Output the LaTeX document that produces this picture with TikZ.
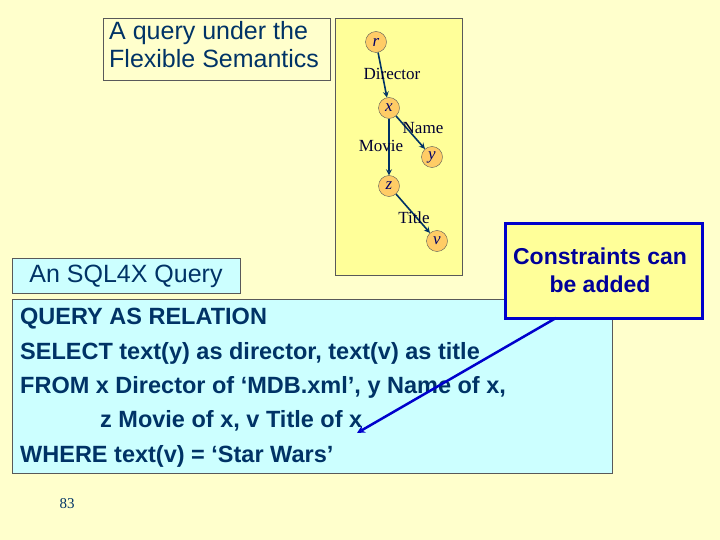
\documentclass[tikz,border=0pt]{standalone}
\usepackage{fontspec}
\setmainfont{Liberation Serif}
\newfontfamily\arial{Liberation Sans}
\begin{document}
\begin{tikzpicture}[x=1pt,y=-1pt,
 vnode/.style={circle,draw=gray!70!black,fill={rgb,255:red,255;green,204;blue,102},minimum size=21pt,inner sep=0pt,font=\itshape\fontsize{17}{17}\selectfont,text={rgb,255:red,0;green,0;blue,102}},
 edge/.style={draw={rgb,255:red,0;green,51;blue,102},line width=1.6pt,-stealth},
 lab/.style={font=\fontsize{17}{17}\selectfont,text={rgb,255:red,0;green,0;blue,51},inner sep=0pt},
 qtext/.style={font=\arial\bfseries\fontsize{23.5}{23.5}\selectfont,text={rgb,255:red,0;green,51;blue,102},anchor=west,inner sep=0pt}]
\definecolor{navy}{RGB}{0,51,102}
\fill[fill={rgb,255:red,255;green,255;blue,204}] (0,0) rectangle (720,540);
\useasboundingbox (0,0) rectangle (720,540);
\node[draw=gray!70!black,fill={rgb,255:red,255;green,255;blue,204},minimum width=227pt,minimum height=62pt,anchor=north west] (title) at (103,18) {};
\node[font=\arial\fontsize{25}{28}\selectfont,text=navy,align=left,anchor=north west,inner sep=0pt] (tt) at (109,21) {A query under the\\Flexible Semantics};
\node[draw=gray!70!black,fill={rgb,255:red,255;green,255;blue,153},minimum width=127pt,minimum height=257pt,anchor=north west] (tree) at (335,18) {};
\node[vnode] (r) at (376,42) {r};
\node[vnode] (x) at (389,108) {x};
\node[vnode] (y) at (432,157) {y};
\node[vnode] (z) at (389,186) {z};
\node[vnode] (v) at (437,241) {v};
\draw[edge] (r) -- (x);
\draw[edge] (x) -- (y);
\draw[edge] (x) -- (z);
\draw[edge] (z) -- (v);
\node[lab] (l1) at (392,74) {Director};
\node[lab] (l2) at (423,128) {Name};
\node[lab] (l3) at (381,146) {Movie};
\node[lab] (l4) at (414,218) {Title};
\node[draw=gray!70!black,fill={rgb,255:red,204;green,255;blue,255},minimum width=228pt,minimum height=35pt,anchor=north west] (sq) at (12,258) {};
\node[font=\arial\fontsize{25}{25}\selectfont,text=navy,inner sep=0pt] (sqt) at (126,276) {An SQL4X Query};
\node[draw=gray!70!black,fill={rgb,255:red,204;green,255;blue,255},minimum width=600pt,minimum height=174pt,anchor=north west] (q) at (12,299) {};
\node[qtext] (q1) at (20,319) {QUERY AS RELATION};
\node[qtext] (q2) at (20,353) {SELECT text(y) as director, text(v) as title};
\node[qtext] (q3) at (20,387) {FROM x Director of ‘MDB.xml’, y Name of x,};
\node[qtext] (q4) at (100,421) {z Movie of x, v Title of x};
\node[qtext] (q5) at (20,456) {WHERE text(v) = ‘Star Wars’};
\node[draw={rgb,255:red,0;green,0;blue,204},line width=3pt,fill={rgb,255:red,255;green,255;blue,153},minimum width=197pt,minimum height=95pt,anchor=north west] (c) at (504,222) {};
\node[font=\arial\bfseries\fontsize{23}{28}\selectfont,text={rgb,255:red,0;green,0;blue,153},align=center] (ct) at (600,270) {Constraints can\\be added};
\coordinate (cs) at (556,318);
\coordinate (ce) at (357,433);
\draw[draw={rgb,255:red,0;green,0;blue,204},line width=2.5pt,-stealth] (cs) -- (ce);
\node[font=\fontsize{15}{15}\selectfont,text=navy] (pg) at (67,504) {83};
\end{tikzpicture}
\end{document}
